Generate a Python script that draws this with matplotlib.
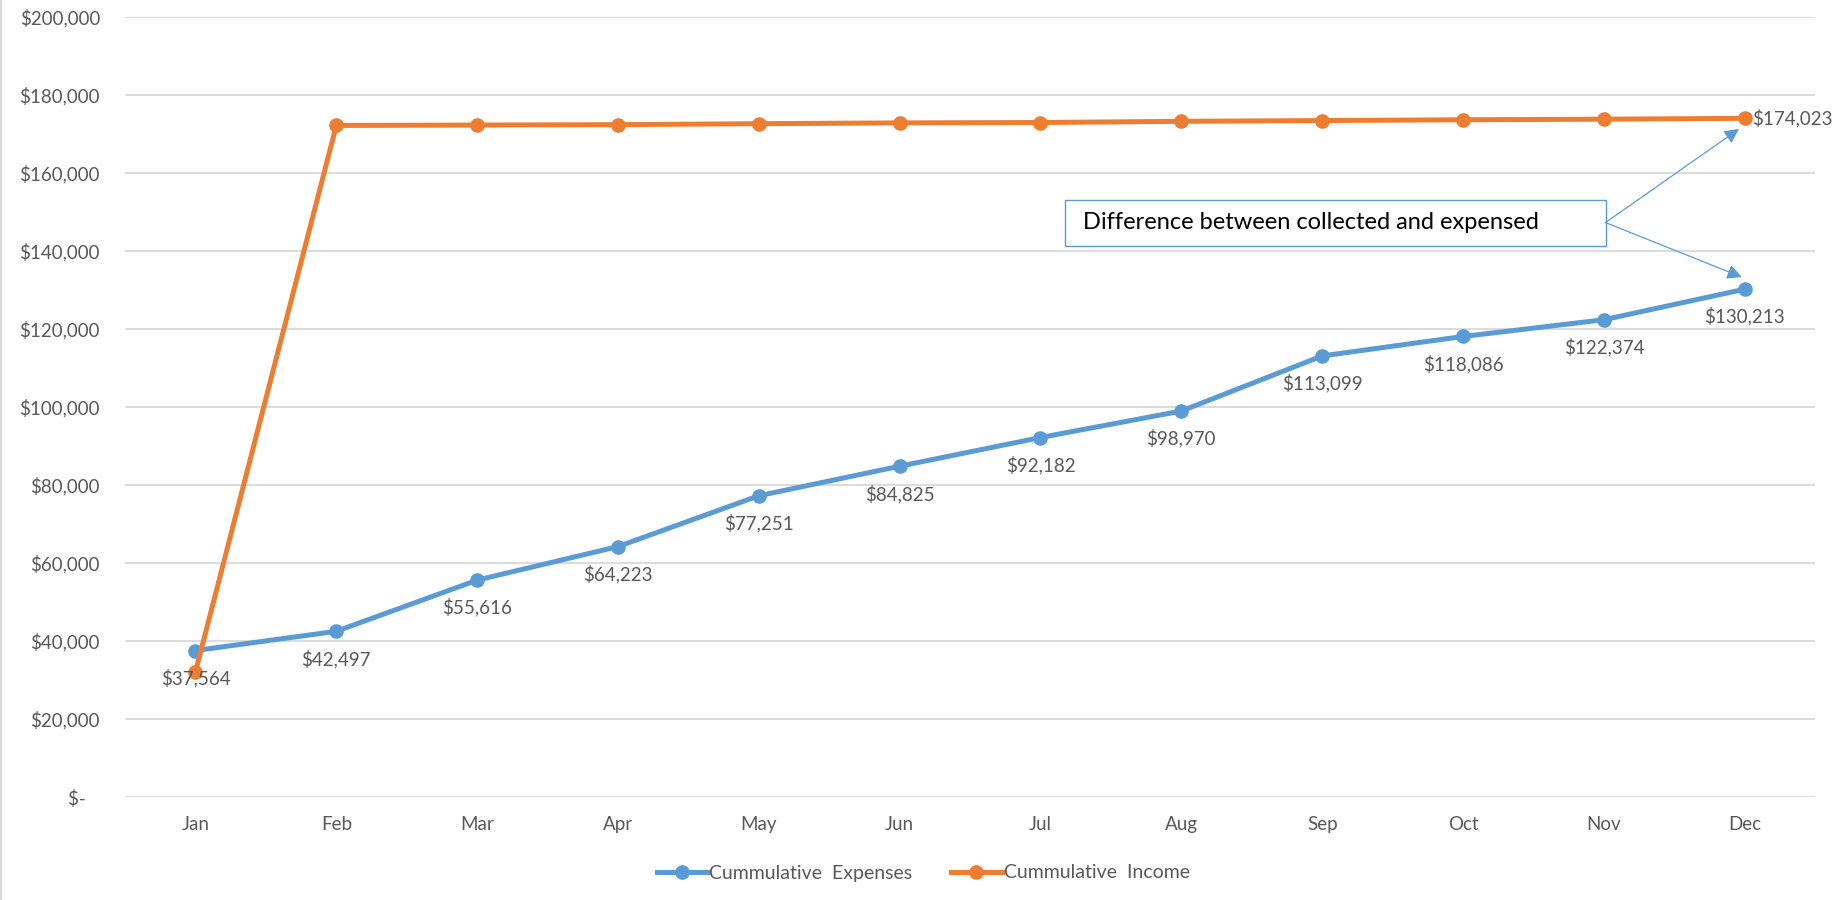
import matplotlib.pyplot as plt
from matplotlib.patches import Rectangle
from matplotlib.lines import Line2D
from matplotlib.ticker import FuncFormatter

plt.rcParams['font.family'] = ['Lato', 'DejaVu Sans']

months = ['Jan', 'Feb', 'Mar', 'Apr', 'May', 'Jun', 'Jul', 'Aug', 'Sep', 'Oct', 'Nov', 'Dec']
expenses = [37564, 42497, 55616, 64223, 77251, 84825, 92182, 98970, 113099, 118086, 122374, 130213]
income = [32100, 172200, 172300, 172400, 172650, 172850, 172950, 173250, 173450, 173650, 173800, 174023]

blue = '#5B9BD5'
orange = '#ED7D31'
grey = '#595959'


def money(v, pos=None):
    if v == 0:
        return '$-   '
    return '${:,.0f}'.format(v)


fig = plt.figure(figsize=(18.39, 9), dpi=100)
ax = fig.add_axes([0.068, 0.1144, 0.919, 0.8667])

x = list(range(len(months)))
ax.plot(x, expenses, '-o', color=blue, lw=3.6, ms=9.5, label='Cummulative  Expenses', zorder=3)
ax.plot(x, income, '-o', color=orange, lw=3.6, ms=9.5, label='Cummulative  Income', zorder=3)

# data labels
for i, v in enumerate(expenses):
    ax.annotate(money(v), (i, v), xytext=(0, -13), textcoords='offset points',
                ha='center', va='top', fontsize=13.5, color=grey)
ax.annotate(money(income[-1]), (x[-1], income[-1]), xytext=(5, 0), textcoords='offset points',
            ha='left', va='center', fontsize=13.5, color=grey)

ax.set_xlim(-0.5, 11.5)
ax.set_ylim(0, 200000)
ax.set_yticks(range(0, 200001, 20000))
ax.yaxis.set_major_formatter(FuncFormatter(money))
ax.set_xticks(x)
ax.set_xticklabels(months)
ax.tick_params(axis='both', length=0, labelsize=13.5, labelcolor=grey)
ax.tick_params(axis='y', pad=18)
ax.tick_params(axis='x', pad=14)
ax.grid(axis='y', color='#D9D9D9', lw=1.3)
ax.set_axisbelow(True)
for s in ax.spines.values():
    s.set_visible(False)

# callout box with arrows
ax.add_patch(Rectangle((0.556, 0.707), 0.32, 0.059, transform=ax.transAxes,
                       fill=False, edgecolor=blue, lw=1.0, zorder=4))
ax.text(0.567, 0.7365, 'Difference between collected and expensed', transform=ax.transAxes,
        fontsize=17, color='black', va='center', ha='left')
for tip in [(10.96, 171300), (10.98, 133300)]:
    ax.annotate('', xy=tip, xytext=(0.876, 0.7365), textcoords='axes fraction',
                arrowprops=dict(arrowstyle='-|>', color=blue, lw=0.9, mutation_scale=22,
                                shrinkA=0, shrinkB=0))

fig.legend(loc='center', bbox_to_anchor=(0.502, 0.03), ncol=2, frameon=False,
           fontsize=14, labelcolor=grey, handlelength=2.6, handletextpad=0.1, columnspacing=2.0)

fig.add_artist(Line2D([0.0006, 0.0006], [0, 1], transform=fig.transFigure, color='#D9D9D9', lw=1.5))

fig.savefig('out.png', dpi=100, facecolor='white')
